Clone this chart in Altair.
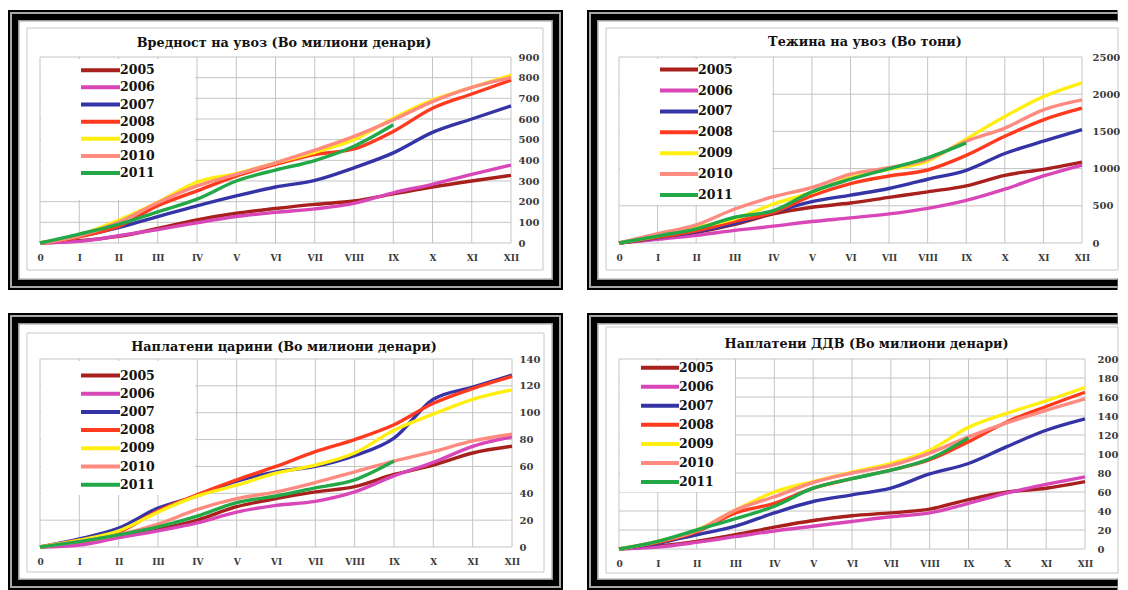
import altair as alt
import pandas as pd

months = ['0', 'I', 'II', 'III', 'IV', 'V', 'VI', 'VII', 'VIII', 'IX', 'X', 'XI', 'XII']
years = ['2005', '2006', '2007', '2008', '2009', '2010', '2011']
colors = ['#a8201c', '#d846b8', '#3434a6', '#ff3a1e', '#ffee10', '#ff8a80', '#22a846']

# Вредност на увоз (Во милиони денари)
vr_2005 = [0, 11, 32, 70, 112, 144, 167, 187, 203, 238, 271, 300, 327]
vr_2006 = [0, 8, 35, 65, 98, 128, 148, 165, 192, 243, 284, 332, 377]
vr_2007 = [0, 32, 75, 128, 180, 228, 271, 303, 364, 436, 535, 600, 663]
vr_2008 = [0, 30, 80, 180, 252, 324, 380, 428, 455, 540, 652, 721, 788]
vr_2009 = [0, 38, 110, 197, 295, 336, 388, 439, 500, 604, 692, 753, 812]
vr_2010 = [0, 35, 100, 195, 276, 332, 388, 449, 516, 596, 684, 753, 801]
vr_2011 = [0, 43, 90, 151, 212, 300, 353, 399, 468, 572]
vr_ticks = [0, 100, 200, 300, 400, 500, 600, 700, 800, 900]

# Тежина на увоз (Во тони)
te_2005 = [0, 58, 140, 250, 391, 480, 537, 613, 688, 768, 910, 990, 1088]
te_2006 = [0, 49, 102, 169, 226, 289, 337, 391, 466, 573, 724, 901, 1048]
te_2007 = [0, 70, 150, 260, 413, 555, 644, 733, 857, 977, 1203, 1368, 1523]
te_2008 = [0, 75, 165, 290, 413, 635, 799, 901, 981, 1177, 1434, 1656, 1812]
te_2009 = [0, 95, 210, 324, 524, 679, 879, 990, 1101, 1399, 1701, 1967, 2153]
te_2010 = [0, 124, 244, 457, 622, 746, 924, 1012, 1123, 1368, 1545, 1790, 1923]
te_2011 = [0, 93, 191, 346, 435, 688, 857, 999, 1146, 1346]
te_ticks = [0, 500, 1000, 1500, 2000, 2500]

# Наплатени царини (Во милиони денари)
ca_2005 = [0, 2.5, 7.4, 13, 20, 30, 36, 41, 45, 54, 61, 70, 75]
ca_2006 = [0, 1.5, 7, 12, 18, 26, 31, 34, 41, 53, 63, 75, 82]
ca_2007 = [0, 6, 14, 29, 38, 49, 56, 60, 68, 81, 110, 119, 128]
ca_2008 = [0, 5, 11, 27, 39, 50, 60, 71, 80, 91, 107, 118, 127]
ca_2009 = [0, 5, 12, 26, 38, 46, 55, 61, 70, 87, 99, 110, 117]
ca_2010 = [0, 4, 9, 17, 28, 36, 41, 48, 56, 64, 71, 79, 84]
ca_2011 = [0, 4, 9, 15, 23, 33, 38, 44, 50, 64]
ca_ticks = [0, 20, 40, 60, 80, 100, 120, 140]

# Наплатени ДДВ (Во милиони денари)
dd_2005 = [0, 3, 8, 15, 23, 30, 35, 38, 42, 52, 60, 64, 71]
dd_2006 = [0, 2, 7, 13, 19, 24, 29, 34, 38, 48, 59, 68, 76]
dd_2007 = [0, 6, 15, 24, 38, 50, 57, 64, 79, 90, 108, 125, 137]
dd_2008 = [0, 7, 18, 38, 48, 64, 74, 83, 94, 113, 134, 150, 165]
dd_2009 = [0, 8, 20, 41, 60, 71, 81, 90, 104, 128, 143, 156, 170]
dd_2010 = [0, 8, 19, 41, 55, 70, 80, 88, 101, 118, 133, 146, 158]
dd_2011 = [0, 8, 20, 32, 45, 64, 74, 83, 95, 117]
dd_ticks = [0, 20, 40, 60, 80, 100, 120, 140, 160, 180, 200]

FONT = 'DejaVu Serif'
GRID = '#c4c4c4'
one = pd.DataFrame({'k': [0]})


def box(x, y, x2, y2, fill, stroke=None):
    kw = {'fill': fill}
    if stroke:
        kw.update(stroke=stroke, strokeWidth=1)
    return alt.Chart(one).mark_rect(**kw).encode(
        x=alt.value(x), x2=alt.value(x2), y=alt.value(y), y2=alt.value(y2))


def panel(title, series, ticks, W, H, g):
    rows = []
    for yr, vals in zip(years, series):
        for m, v in zip(months, vals):
            rows.append({'month': m, 'year': yr, 'value': v})
    df = pd.DataFrame(rows)

    L, T, R, B = g['frame']
    layers = []
    bands = [(0, '#000000'), (2, '#a8a8a8'), (4, '#000000'), (10, '#9a9a9a'), (11.5, '#ffffff')]
    for inset, col in bands:
        if g.get('open_right'):
            right = R if col == '#ffffff' else R - 1.5
        else:
            right = R - inset
        layers.append(box(L + inset, T + inset, right, B - inset, col))
    il, it, ir, ib = g['inner']
    layers.append(box(il, it, ir, ib, '#ffffff', '#c8c8c8'))

    xscale = alt.Scale(type='point', domain=months, padding=0)
    yscale = alt.Scale(domain=[0, ticks[-1]], nice=False, zero=True)
    xaxis = alt.Axis(title=None, labelFont=FONT, labelFontWeight='bold', labelFontSize=9,
                     labelColor='#3a3a3a', domain=False, ticks=False, tickSize=0,
                     labelPadding=10, grid=False, labelAngle=0, zindex=1)
    yaxis = alt.Axis(title=None, orient='right', values=ticks, format='d', labelFont=FONT,
                     labelFontWeight='bold', labelFontSize=10, labelColor='#3a3a3a',
                     domain=False, ticks=False, tickSize=0, labelPadding=g['lpad'],
                     grid=False, zindex=1)

    vgrid = alt.Chart(pd.DataFrame({'month': months})).mark_rule(color=GRID, strokeWidth=1).encode(
        x=alt.X('month:N', scale=xscale, sort=months, axis=xaxis))
    hgrid = alt.Chart(pd.DataFrame({'value': ticks})).mark_rule(color=GRID, strokeWidth=1).encode(
        y=alt.Y('value:Q', scale=yscale, axis=yaxis))
    bl, bt, br, bb = g['lbox']
    lbox = box(bl, bt, br, bb, '#ffffff')
    lines = alt.Chart(df).mark_line(interpolate='monotone', strokeWidth=3.4).encode(
        x=alt.X('month:N', scale=xscale, sort=months, axis=xaxis),
        y=alt.Y('value:Q', scale=yscale, axis=yaxis),
        color=alt.Color('year:N', scale=alt.Scale(domain=years, range=colors), legend=None),
        detail='year:N')
    main = alt.layer(vgrid, hgrid, lbox, lines)

    ydf = pd.DataFrame({'year': years})
    lx1, lx2 = g['lx']
    ly0, ly1 = g['ly']
    lscale = alt.Scale(type='point', domain=years, range=[ly0, ly1], padding=0)
    leg_rule = alt.Chart(ydf).mark_rule(strokeWidth=4).encode(
        x=alt.value(lx1), x2=alt.value(lx2),
        y=alt.Y('year:N', scale=lscale, axis=None),
        color=alt.Color('year:N', scale=alt.Scale(domain=years, range=colors), legend=None))
    leg_text = alt.Chart(ydf).mark_text(align='left', baseline='middle', font=FONT,
                                        fontWeight='bold', fontSize=12.5, color='#111111').encode(
        x=alt.value(lx2), y=alt.Y('year:N', scale=lscale, axis=None), text='year:N')
    legend = alt.layer(leg_rule, leg_text)

    tx, ty = g['title']
    ttl = alt.Chart(one).mark_text(text=title, font=FONT, fontWeight='bold', fontSize=12.8,
                                   align='center', baseline='middle', color='#111111').encode(
        x=alt.value(tx), y=alt.value(ty))

    return alt.layer(*layers, main, legend, ttl).resolve_scale(y='independent').properties(
        width=W, height=H)


tl = panel('Вредност на увоз (Во милиони денари)',
           [vr_2005, vr_2006, vr_2007, vr_2008, vr_2009, vr_2010, vr_2011], vr_ticks, 471, 186,
           dict(frame=(-32, -47, 523, 233), inner=(-13, -29, 503, 213), title=(244, -14),
                lbox=(1, 2, 155, 143), lx=(41, 80), ly=(13.2, 116.1), lpad=7))
tr = panel('Тежина  на увоз (Во тони)',
           [te_2005, te_2006, te_2007, te_2008, te_2009, te_2010, te_2011], te_ticks, 463, 186,
           dict(frame=(-32, -47, 500, 233), open_right=True, inner=(-13, -29, 499, 213),
                title=(246, -15), lbox=(1, 2, 153, 148), lx=(41, 79), ly=(12.6, 138), lpad=10))
bl_ = panel('Наплатени царини (Во милиони денари)',
            [ca_2005, ca_2006, ca_2007, ca_2008, ca_2009, ca_2010, ca_2011], ca_ticks, 472, 188,
            dict(frame=(-32, -46, 523, 231), inner=(-13, -26, 504, 213), title=(244, -12),
                 lbox=(1, 2, 155, 136), lx=(41, 80), ly=(16.5, 125.7), lpad=7))
br_ = panel('Наплатени ДДВ (Во милиони денари)',
            [dd_2005, dd_2006, dd_2007, dd_2008, dd_2009, dd_2010, dd_2011], dd_ticks, 466, 190,
            dict(frame=(-32, -46, 500, 231), open_right=True, inner=(-13, -32, 499, 214),
                 title=(247.6, -15.4), lbox=(1, 2, 116, 133), lx=(22, 60), ly=(8.7, 123), lpad=12))

chart = alt.concat(tl, tr, bl_, br_, columns=2, spacing={'row': 116, 'column': 107},
                   bounds='flush').properties(
    padding={'left': 0, 'top': 2, 'right': 0, 'bottom': 0}).configure_view(stroke=None)

chart.save('out.html', embed_options={'renderer': 'svg', 'actions': False})
